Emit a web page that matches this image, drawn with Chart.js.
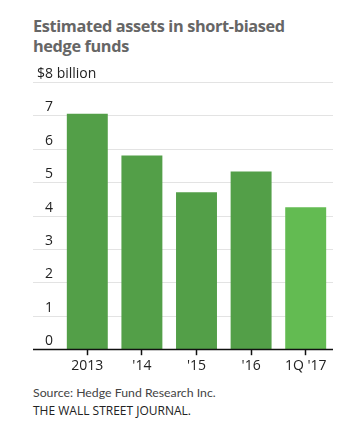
<!DOCTYPE html>
<html>
<head>
<meta charset="utf-8">
<script src="https://cdn.jsdelivr.net/npm/chart.js@4"></script>
<style>
  body { margin: 0; background: #fff; width: 345px; height: 442px; position: relative; overflow: hidden; }
  #title { position: absolute; left: 33px; top: 16px; font: bold 16.3px "Open Sans", sans-serif; color: #666; line-height: 20px; letter-spacing: -0.35px; }
  #wrap { position: absolute; left: 0; top: 60px; width: 345px; height: 320px; }
  #source { position: absolute; left: 33px; top: 385px; font: 12.3px Lato, sans-serif; color: #444; }
  #wsj { position: absolute; left: 33px; top: 402px; font: 12px "Open Sans", sans-serif; color: #222; }
</style>
</head>
<body>
<div id="title">Estimated assets in short-biased<br>hedge funds</div>
<div id="wrap"><canvas id="chart"></canvas></div>
<div id="source">Source: Hedge Fund Research Inc.</div>
<div id="wsj">THE WALL STREET JOURNAL.</div>
<script>
// data
const periods = ["2013", "'14", "'15", "'16", "1Q '17"];
const assets = [7.05, 5.8, 4.7, 5.32, 4.25];
const yTicks = [0, 1, 2, 3, 4, 5, 6, 7, 8];
const barColors = ["#539f48", "#539f48", "#539f48", "#539f48", "#63bb52"];

// gridlines + y labels drawn past the left edge of the chart area
const sideGrid = {
    id: "sideGrid",
    beforeDatasetsDraw(chart) {
        const ctx = chart.ctx;
        const y = chart.scales.y;
        const left = 33, right = chart.chartArea.right;
        ctx.save();
        yTicks.forEach(v => {
            const py = Math.round(y.getPixelForValue(v)) + 0.5;
            if (v > 0) {
                ctx.strokeStyle = "#e3e3e3";
                ctx.lineWidth = 1;
                ctx.beginPath();
                ctx.moveTo(left, py);
                ctx.lineTo(right, py);
                ctx.stroke();
            }
            ctx.fillStyle = "#222";
            ctx.font = '14px "Open Sans", sans-serif';
            ctx.textBaseline = "alphabetic";
            ctx.textAlign = "left";
            const label = v === 8 ? "$8 billion" : String(v);
            ctx.fillText(label, v === 8 ? 37 : 45, py - 5);
        });
        ctx.restore();
    },
    afterDatasetsDraw(chart) {
        const ctx = chart.ctx;
        const py = Math.round(chart.scales.y.getPixelForValue(0)) + 0.5;
        ctx.save();
        ctx.strokeStyle = "#111";
        ctx.lineWidth = 1.5;
        ctx.beginPath();
        ctx.moveTo(33, py);
        ctx.lineTo(chart.chartArea.right, py);
        ctx.stroke();
        ctx.restore();
    }
};

new Chart(document.getElementById("chart"), {
    type: "bar",
    data: {
        labels: periods,
        datasets: [{
            data: assets,
            backgroundColor: barColors,
            borderWidth: 0,
            categoryPercentage: 1,
            barPercentage: 0.75
        }]
    },
    options: {
        responsive: true,
        maintainAspectRatio: false,
        animation: false,
        layout: { padding: { left: 60, right: 12, top: 22, bottom: 4 } },
        plugins: { legend: { display: false }, tooltip: { enabled: false } },
        scales: {
            x: {
                grid: { offset: false, drawOnChartArea: false, tickLength: 6, tickColor: "#111", tickWidth: 1.5 },
                border: { display: false },
                ticks: { color: "#222", font: { family: "Open Sans", size: 14 }, padding: 2, maxRotation: 0 }
            },
            y: {
                display: false,
                min: 0,
                max: 8
            }
        }
    },
    plugins: [sideGrid]
});
</script>
</body>
</html>
